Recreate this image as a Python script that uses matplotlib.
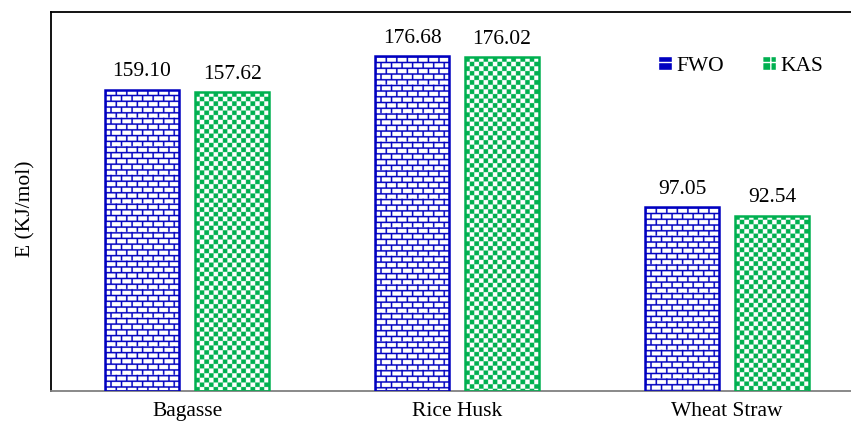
import numpy as np
import matplotlib
matplotlib.use("Agg")
import matplotlib.pyplot as plt
from matplotlib.patches import Patch

plt.rcParams['font.family'] = ['Liberation Serif', 'DejaVu Serif']

# data
categories = ['Bagasse', 'Rice Husk', 'Wheat Straw']
fwo = [159.10, 176.68, 97.05]
kas = [157.62, 176.02, 92.54]

blue = '#0000C0'
green = '#00B050'


def brick(h, w, ss=4):
    # brick-like texture, sizes in screen pixels
    H, W = int(h * ss), int(w * ss)
    ii, jj = np.mgrid[0:H, 0:W] / ss
    rh, bw, lw = 5.7, 10.5, 1.5
    row = np.floor(ii / rh)
    line = (ii % rh) < lw
    line |= ((jj + (row % 2) * bw / 2) % bw) < lw
    img = np.ones((H, W, 3))
    img[line] = matplotlib.colors.to_rgb(blue)
    return img


def checker(h, w, ss=4):
    H, W = int(h * ss), int(w * ss)
    ii, jj = np.mgrid[0:H, 0:W] / ss
    c = 4.6
    on = ((np.floor(ii / c) + np.floor(jj / c)) % 2) == 0
    img = np.ones((H, W, 3))
    img[on] = matplotlib.colors.to_rgb(green)
    return img


fig = plt.figure(figsize=(8.51, 4.28), dpi=100)
ax = fig.add_axes([51 / 851, 37 / 428, 800 / 851, 379 / 428])
ax.set_xlim(-0.504, 2.459)
ax.set_ylim(0, 200)

x = np.arange(len(categories))
w = 0.274
off = 0.1667
b1 = ax.bar(x - off, fwo, w, facecolor='none', edgecolor=blue, linewidth=1.8, zorder=3)
b2 = ax.bar(x + off, kas, w, facecolor='none', edgecolor=green, linewidth=1.8, zorder=3)

fig.canvas.draw()
for bars, tex in ((b1, brick), (b2, checker)):
    for r in bars:
        x0, y0 = r.get_x(), r.get_y()
        x1, y1 = x0 + r.get_width(), y0 + r.get_height()
        p0 = ax.transData.transform((x0, y0))
        p1 = ax.transData.transform((x1, y1))
        img = tex(p1[1] - p0[1], p1[0] - p0[0])
        im = ax.imshow(img, extent=(x0, x1, y0, y1), aspect='auto',
                       interpolation='antialiased', zorder=2)
        im.set_clip_path(r)

for bars, vals in ((b1, fwo), (b2, kas)):
    for r, v in zip(bars, vals):
        ax.annotate(f'{v:.2f}', (r.get_x() + r.get_width() / 2, v),
                    xytext=(0, 6), textcoords='offset points',
                    ha='center', va='bottom', fontsize=15.5)

ax.set_xlim(-0.504, 2.459)
ax.set_ylim(0, 200)
ax.set_xticks(x)
ax.set_xticklabels(categories, fontsize=15.5)
ax.tick_params(axis='x', length=0, pad=8)
ax.set_yticks([])
ax.set_ylabel('E (KJ/mol)', fontsize=15.5)
ax.yaxis.set_label_coords(-0.019, 0.48)
ax.spines['right'].set_visible(False)
for s in ('left', 'top', 'bottom'):
    ax.spines[s].set_linewidth(1.3)
ax.spines['bottom'].set_color('#808080')

handles = [Patch(facecolor=blue, edgecolor='white', hatch='--'),
           Patch(facecolor=green, edgecolor='white', hatch='++')]
ax.legend(handles, ['FWO', 'KAS'], loc='upper right', bbox_to_anchor=(0.99, 0.935),
          ncol=2, frameon=False, fontsize=15.5, handlelength=0.65, handleheight=0.65,
          handletextpad=0.2, columnspacing=1.8)

fig.savefig('out.png', dpi=100)
